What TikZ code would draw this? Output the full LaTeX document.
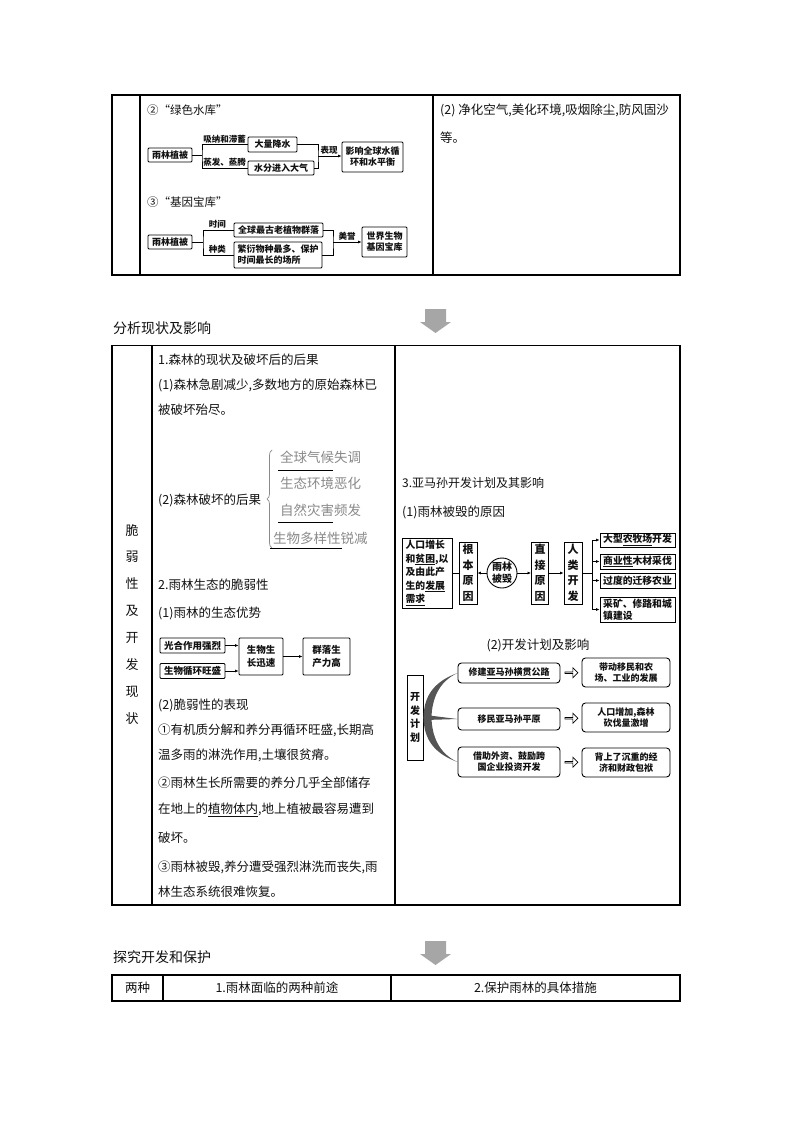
\documentclass[tikz,border=0pt]{standalone}
\usepackage{fontspec}
\setmainfont{Noto Sans CJK SC}
\usepackage{tikz}
\usetikzlibrary{arrows.meta,calc,decorations.pathreplacing,positioning,shapes.arrows}
\definecolor{rfInk}{HTML}{111111}
\definecolor{rfArrow}{HTML}{A6A6A6}
\definecolor{rfBlank}{HTML}{8A8A8A}
\definecolor{rfFan}{HTML}{555555}
\tikzset{
  rf page/.style={x=1pt, y=-1pt, text=rfInk, inner sep=0pt},
  rf rule/.style={draw=black, line width=1.1pt},
  rf text/.style={anchor=west, font=\fontsize{12.5}{14}\selectfont},
  rf head/.style={anchor=west, font=\fontsize{14}{16}\selectfont},
  rf box/.style={draw, line width=0.9pt, rounded corners=1pt, align=center,
    inner sep=1pt, font=\fontsize{9}{11}\selectfont\bfseries},
  rf round/.style={rf box, rounded corners=3.5pt},
  rf tag/.style={font=\fontsize{8.5}{10}\selectfont\bfseries, inner sep=0.6pt},
  rf link/.style={draw, line width=0.8pt},
  rf arrow/.style={rf link, -{Latex[length=3.5pt,width=3pt]}},
  rf blank/.style={anchor=west, text=rfBlank, font=\fontsize{13.5}{15}\selectfont},
  rf down/.style={fill=rfArrow, draw=none},
  rf hollow/.style={single arrow, draw, line width=0.7pt, minimum height=13pt,
    minimum width=10pt, single arrow head extend=2pt, inner sep=0pt}
}
\begin{document}
\begin{tikzpicture}[rf page]
\useasboundingbox[fill=white] (0,0) rectangle (794,1123);
% tables
\draw[rf rule] (112,95) rectangle (680,275);
\draw[rf rule] (140,95) -- (140,275) (433,95) -- (433,275);
\draw[rf rule] (112,345.5) rectangle (680,905);
\draw[rf rule] (152,345.5) -- (152,905) (395,345.5) -- (395,905);
\draw[rf rule] (112,975) rectangle (680,1001);
\draw[rf rule] (163,975) -- (163,1001) (391,975) -- (391,1001);
\foreach \y in {309,941}{
  \fill[rf down] (425,\y) -- (446,\y) -- (446,\y+13) -- (451,\y+13) -- (435.5,\y+24)
    -- (420,\y+13) -- (425,\y+13) -- cycle;
}
% green reservoir
\node[rf text, font=\fontsize{11.5}{13}\selectfont] (gsTitle) at (147,110) {②“绿色水库”};
\node[rf box, minimum width=44pt, minimum height=14pt] (gsVeg) at (170,155) {雨林植被};
\node[rf box, minimum width=49pt, minimum height=15pt] (gsRain) at (272.5,144.5) {大量降水};
\node[rf box, minimum width=66pt, minimum height=14pt] (gsVapor) at (281,168) {水分进入大气};
\node[rf box, minimum width=61pt, minimum height=30pt] (gsCycle) at (372.5,157) {影响全球水循\\环和水平衡};
\coordinate (gsFork) at (202,155);
\coordinate (gsJoin) at (318,156);
\draw[rf link] (gsVeg.east) -- (gsFork);
\draw[rf link] (gsRain.west) -| (gsFork) |- (gsVapor.west);
\draw[rf link] (gsRain.east) -| (gsJoin) |- (gsVapor.east);
\draw[rf arrow] (gsJoin) -- (gsJoin -| gsCycle.west);
\node[rf tag, anchor=south west] (gsAbsorb) at (202.5,144) {吸纳和滞蓄};
\node[rf tag, anchor=south west] (gsEvap) at (202.5,167) {蒸发、蒸腾};
\node[rf tag, anchor=south] (gsShow) at (329,155) {表现};
% gene bank
\node[rf text, font=\fontsize{11.5}{13}\selectfont] (gbTitle) at (147,202) {③“基因宝库”};
\node[rf box, minimum width=44pt, minimum height=14pt] (gbVeg) at (170,242) {雨林植被};
\node[rf box, minimum width=89pt, minimum height=14pt] (gbOld) at (278.5,230) {全球最古老植物群落};
\node[rf box, minimum width=88pt, minimum height=26pt, align=left] (gbSpecies) at (278,255) {繁衍物种最多、保护\\时间最长的场所};
\node[rf box, minimum width=45pt, minimum height=30pt] (gbBank) at (384.5,242) {世界生物\\基因宝库};
\coordinate (gbFork) at (203,242);
\coordinate (gbJoin) at (333,242);
\draw[rf link] (gbVeg.east) -- (gbFork);
\draw[rf link] (gbOld.west) -| (gbFork) |- (gbSpecies.west);
\draw[rf link] (gbOld.east) -| (gbJoin) |- (gbSpecies.east);
\draw[rf arrow] (gbJoin) -- (gbBank.west);
\node[rf tag, anchor=south west] (gbTime) at (208,229) {时间};
\node[rf tag, anchor=south west] (gbKind) at (208,254) {种类};
\node[rf tag, anchor=south] (gbFame) at (347,241) {美誉};
\node[rf text] (gsUse) at (440,110) {(2) 净化空气,美化环境,吸烟除尘,防风固沙};
\node[rf text] (gsUseEnd) at (440,138) {等。};
% status and effects
\node[rf head] (secStatus) at (113,328) {分析现状及影响};
\foreach \ch [count=\i] in {脆,弱,性,及,开,发,现,状}
  \node[font=\fontsize{13}{15}\selectfont] (side\i) at (132,503+27*\i) {\ch};
\foreach \y/\txt in {360/{1.森林的现状及破坏后的后果},
    385/{(1)森林急剧减少,多数地方的原始森林已},
    410/{被破坏殆尽。},
    500/{(2)森林破坏的后果},
    585/{2.雨林生态的脆弱性},
    613/{(1)雨林的生态优势},
    705/{(2)脆弱性的表现},
    730/{①有机质分解和养分再循环旺盛,长期高},
    755/{温多雨的淋洗作用,土壤很贫瘠。},
    783/{②雨林生长所需要的养分几乎全部储存},
    810/{在地上的\underline{植物体内},地上植被最容易遭到},
    838/{破坏。},
    867/{③雨林被毁,养分遭受强烈淋洗而丧失,雨},
    892/{林生态系统很难恢复。}}
  \node[rf text] at (158,\y) {\txt};
\draw[rfBlank, line width=0.7pt, decorate, decoration={brace, amplitude=5pt}] (272,548) -- (272,450);
\node[rf blank] (cqClimate) at (280,457) {全球气候失调};
\node[rf blank] (cqEnv) at (280,483) {生态环境恶化};
\node[rf blank] (cqDisaster) at (280,510) {自然灾害频发};
\node[rf blank] (cqBio) at (273,538) {生物多样性锐减};
\foreach \y/\a/\b in {470/278/333, 522/278/333, 548/270/342}
  \draw[black, line width=0.8pt] (\a,\y) -- (\b,\y);
\node[rf box, minimum width=65pt, minimum height=15pt, font=\fontsize{9.5}{11}\selectfont\bfseries] (eaPhoto) at (192.5,645.5) {光合作用强烈};
\node[rf box, minimum width=65pt, minimum height=15pt, font=\fontsize{9.5}{11}\selectfont\bfseries] (eaCycle) at (192.5,671) {生物循环旺盛};
\node[rf box, minimum width=44pt, minimum height=37pt, font=\fontsize{9.5}{13}\selectfont\bfseries] (eaGrow) at (261,656.5) {生物生\\长迅速};
\node[rf box, minimum width=47pt, minimum height=37pt, font=\fontsize{9.5}{13}\selectfont\bfseries] (eaProd) at (326.5,656.5) {群落生\\产力高};
\draw[rf arrow] (eaPhoto.east) -- (eaPhoto.east -| eaGrow.west);
\draw[rf arrow] (eaCycle.east) -- (eaCycle.east -| eaGrow.west);
\draw[rf arrow] (eaGrow) -- (eaProd);
% amazon plan
\node[rf text, font=\fontsize{12}{14}\selectfont] (amzTitle) at (402,483) {3.亚马孙开发计划及其影响};
\node[rf text] (rcTitle) at (402,512) {(1)雨林被毁的原因};
\node[rf box, rounded corners=0pt, minimum width=50pt, minimum height=70pt, align=left,
  font=\fontsize{9.8}{13.5}\selectfont\bfseries] (rcNeed) at (427,573) {人口增长\\和\underline{贫困},以\\及由此产\\生的\underline{发展}\\\underline{需求}};
\node[rf box, rounded corners=0pt, minimum width=18pt, minimum height=62pt, font=\fontsize{11}{15.5}\selectfont\bfseries] (rcRoot) at (468,573) {根\\本\\原\\因};
\node[draw, circle, line width=0.9pt, minimum size=30pt, align=center, font=\fontsize{10}{12}\selectfont\bfseries] (rcLoss) at (502,573) {雨林\\被毁};
\node[rf box, rounded corners=0pt, minimum width=17pt, minimum height=62pt, font=\fontsize{11}{15.5}\selectfont\bfseries] (rcDirect) at (540,573) {直\\接\\原\\因};
\node[rf box, rounded corners=0pt, minimum width=18pt, minimum height=62pt, font=\fontsize{11}{15.5}\selectfont\bfseries] (rcHuman) at (573,573) {人\\类\\开\\发};
\coordinate (rcFork) at (592,573);
\node[rf box, rounded corners=0pt, minimum width=75pt, minimum height=14pt, font=\fontsize{9.8}{12}\selectfont\bfseries] (hdRanch) at (637.5,540) {大型\underline{农牧场}开发};
\node[rf box, rounded corners=0pt, minimum width=75pt, minimum height=15pt, font=\fontsize{9.8}{12}\selectfont\bfseries] (hdLogging) at (637.5,561.5) {\underline{商业性}木材采伐};
\node[rf box, rounded corners=0pt, minimum width=75pt, minimum height=15pt, font=\fontsize{9.8}{12}\selectfont\bfseries] (hdFarming) at (637.5,580.5) {过度的迁移农业};
\node[rf box, rounded corners=0pt, minimum width=75pt, minimum height=25pt, align=left, font=\fontsize{9.8}{12}\selectfont\bfseries] (hdMining) at (637.5,609.5) {采矿、修路和城\\镇建设};
\draw[rf link] (rcNeed) -- (rcRoot);
\draw[rf arrow] (rcLoss) -- (rcRoot);
\draw[rf arrow] (rcLoss) -- (rcDirect);
\draw[rf arrow] (rcDirect) -- (rcHuman);
\draw[rf link] (rcHuman) -- (rcFork);
\foreach \n in {hdRanch,hdLogging,hdFarming,hdMining}
  \draw[rf arrow] (rcFork) |- (\n.west);
\node[font=\fontsize{12.5}{14}\selectfont] (dpTitle) at (538,645) {(2)开发计划及影响};
\node[rf box, rounded corners=0pt, minimum width=16pt, minimum height=85pt, font=\fontsize{10}{13.5}\selectfont\bfseries] (dpPlan) at (415,717.5) {开\\发\\计\\划};
\node[rf round, minimum width=102pt, minimum height=20pt] (dpRoad) at (509,673) {修建\underline{亚马孙横贯公路}};
\node[rf round, minimum width=88pt, minimum height=29pt] (dpRoadFx) at (626,672.5) {带动移民和农\\场、工业的发展};
\node[rf round, minimum width=102pt, minimum height=22pt] (dpMigr) at (509,719) {移民亚马孙平原};
\node[rf round, minimum width=88pt, minimum height=29pt] (dpMigrFx) at (626,717.5) {人口增加,森林\\砍伐量激增};
\node[rf round, minimum width=102pt, minimum height=30pt] (dpInvest) at (509,762) {借助外资、鼓励跨\\国企业投资开发};
\node[rf round, minimum width=88pt, minimum height=29pt] (dpInvestFx) at (626,762.5) {背上了沉重的经\\济和财政包袱};
\node[rf hollow] (dpArrA) at ($(dpRoad.east)!0.5!(dpRoadFx.west)$) {};
\node[rf hollow] (dpArrB) at ($(dpMigr.east)!0.5!(dpMigrFx.west)$) {};
\node[rf hollow] (dpArrC) at ($(dpInvest.east)!0.5!(dpInvestFx.west)$) {};
\fill[rfFan] (dpRoad.west) .. controls (430,683) and (424,700) .. (dpPlan.east)
  .. controls (424,735) and (430,752) .. (dpInvest.west)
  .. controls (438,753) and (432,735) .. ($(dpPlan.east)+(8,0)$)
  .. controls (432,700) and (438,682) .. (dpRoad.west) -- cycle;
\fill[rfFan] ($(dpPlan.east)+(2,-2.5)$) -- (dpMigr.west) -- ($(dpPlan.east)+(2,2.5)$) -- cycle;
% explore and protect
\node[rf head] (secExplore) at (113,957) {探究开发和保护};
\node[font=\fontsize{12.5}{14}\selectfont] (twoKinds) at (137.5,988) {两种};
\node[font=\fontsize{12.5}{14}\selectfont] (twoFutures) at (277,988) {1.雨林面临的两种前途};
\node[font=\fontsize{12.5}{14}\selectfont] (measures) at (535.5,988) {2.保护雨林的具体措施};
\end{tikzpicture}
\end{document}
